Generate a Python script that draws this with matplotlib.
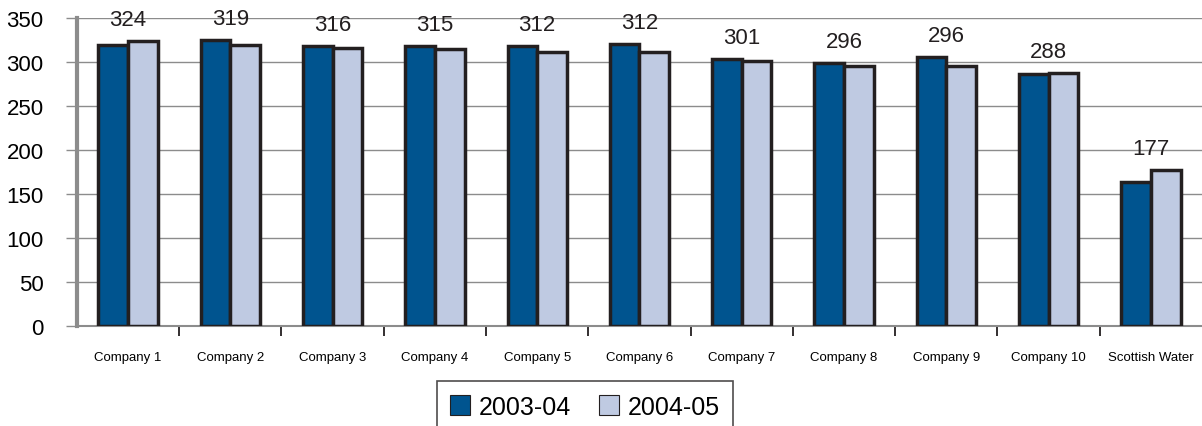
import matplotlib
matplotlib.use('Agg')
import matplotlib.pyplot as plt
import numpy as np

plt.rcParams['font.family'] = ['Liberation Sans', 'DejaVu Sans']

companies = ['Company 1', 'Company 2', 'Company 3', 'Company 4', 'Company 5',
             'Company 6', 'Company 7', 'Company 8', 'Company 9', 'Company 10',
             'Scottish Water']
y2003 = [319, 325, 318, 318, 318, 320, 303, 299, 306, 287, 164]
y2004 = [324, 319, 316, 315, 312, 312, 301, 296, 296, 288, 177]

dark = '#00548f'
light = '#bfcae2'
edge = '#231f20'

fig = plt.figure(figsize=(12.02, 4.27), dpi=100)
ax = fig.add_axes([0.064, 0.234, 0.936, 0.7213])

x = np.arange(len(companies))
w = 0.29
ax.bar(x - w / 2, y2003, w, color=dark, edgecolor=edge, linewidth=2.5,
       label='2003-04', zorder=3)
ax.bar(x + w / 2, y2004, w, color=light, edgecolor=edge, linewidth=2.5,
       label='2004-05', zorder=3)

# value labels sit above the taller bar of each pair
for i, v in enumerate(y2004):
    top = max(v, y2003[i])
    ax.annotate(str(v), (x[i], top), xytext=(0, 8), textcoords='offset points',
                ha='center', va='bottom', fontsize=16, color='#231f20')

ax.set_xlim(-0.5, len(companies) - 0.5)
ax.set_ylim(0, 350)
ax.set_yticks(range(0, 351, 50))
ax.yaxis.grid(True, color='#8c8c8c', linewidth=1)
ax.set_axisbelow(True)

ax.set_xticks(x)
ax.set_xticklabels(companies, fontsize=9.5)
ax.set_xticks(np.arange(0.5, len(companies) - 0.5), minor=True)
ax.tick_params(axis='x', which='major', length=0, pad=18)
ax.tick_params(axis='x', which='minor', length=7, width=1.3, color='#231f20',
               direction='out')
ax.tick_params(axis='y', labelsize=16, length=8, width=1, color='#8c8c8c',
               pad=16)

for s in ['top', 'right']:
    ax.spines[s].set_visible(False)
ax.spines['left'].set_color('#8c8c8c')
ax.spines['left'].set_linewidth(3)
ax.spines['bottom'].set_color('#8c8c8c')
ax.spines['bottom'].set_linewidth(1.5)

leg = fig.legend(loc='upper center', bbox_to_anchor=(0.4867, 0.1054), ncol=2,
                 fontsize=18, frameon=True, fancybox=False, shadow=False,
                 handlelength=0.8, handleheight=0.8, handletextpad=0.35,
                 columnspacing=1.1, borderpad=0.55, borderaxespad=0)
leg.get_frame().set_edgecolor('#231f20')
leg.get_frame().set_linewidth(1.2)
for h in leg.legend_handles:
    h.set_linewidth(0.8)

fig.savefig('out.png', dpi=100)
